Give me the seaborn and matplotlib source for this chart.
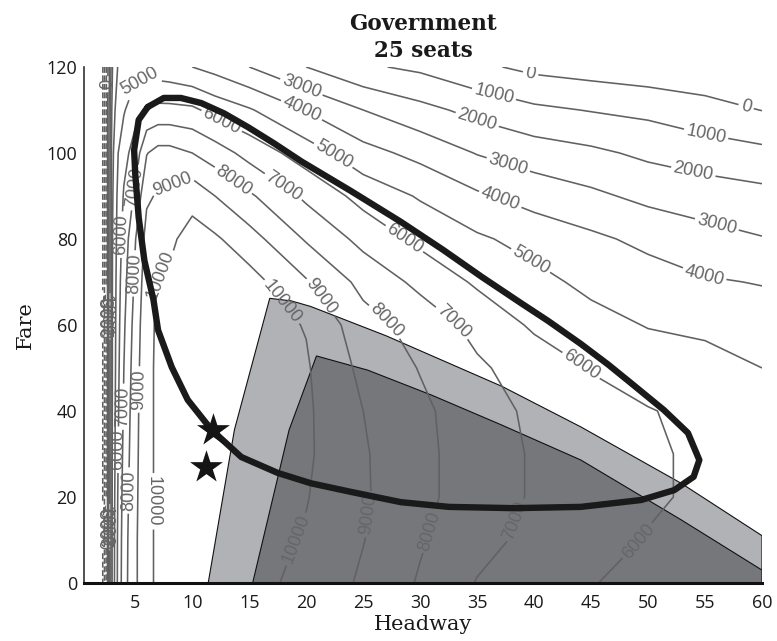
import numpy as np
import matplotlib
matplotlib.use("Agg")
import matplotlib.pyplot as plt
import seaborn as sns

# ---------------- data ----------------
headway = [2, 2.5, 3, 3.5, 4, 5, 6, 7, 8, 10, 12, 15, 20, 25, 30, 35, 40, 45, 50, 55, 60]
fare = [0, 10, 20, 30, 40, 50, 60, 70, 80, 90, 100, 110, 120]

# welfare values (one list per fare row, columns follow `headway`)
w_f000 = [-4000, -600, 4300, 6300, 7600, 8850, 9700, 10200, 10300, 10400, 10500, 10350, 9700, 8850, 7900, 6950, 6480, 6030, 5800, 5650, 5550]
w_f010 = [-4000, -600, 4300, 6250, 7550, 8850, 9700, 10200, 10350, 10500, 10650, 10450, 9900, 9030, 8100, 7300, 6750, 6300, 5950, 5750, 5620]
w_f020 = [-4000, -600, 4250, 6150, 7450, 8800, 9700, 10200, 10350, 10550, 10750, 10550, 10050, 9120, 8250, 7500, 6900, 6450, 6120, 5850, 5700]
w_f030 = [-4000, -600, 4200, 6000, 7300, 8750, 9700, 10200, 10350, 10600, 10800, 10600, 10150, 9100, 8250, 7500, 6900, 6450, 6120, 5850, 5650]
w_f040 = [-4000, -600, 4150, 5900, 7150, 8700, 9700, 10200, 10350, 10600, 10800, 10600, 10150, 9000, 8200, 7450, 6800, 6350, 6050, 5750, 5550]
w_f050 = [-4000, -600, 4100, 5800, 7000, 8600, 9700, 10200, 10350, 10600, 10750, 10550, 10100, 8750, 7950, 7150, 6550, 5950, 5550, 5350, 5000]
w_f060 = [-4000, -600, 4100, 5700, 6850, 8450, 9700, 10150, 10300, 10550, 10650, 10450, 9950, 8400, 7600, 6700, 5850, 5350, 4950, 4800, 4500]
w_f070 = [-4000, -600, 4050, 5600, 6650, 8200, 9600, 10050, 10150, 10500, 10500, 10400, 9100, 7700, 6750, 5850, 5300, 4750, 4450, 4100, 3950]
w_f080 = [-4000, -600, 4000, 5450, 6400, 7950, 9350, 9600, 9800, 10400, 10150, 9400, 7900, 6700, 5750, 5150, 4650, 4200, 3750, 3350, 3050]
w_f090 = [-4000, -600, 3900, 5300, 6100, 7200, 8850, 9100, 9200, 9650, 9000, 8150, 6800, 5650, 4900, 4150, 3600, 3200, 2750, 2500, 2300]
w_f100 = [-4000, -600, 3800, 5000, 5700, 6400, 7950, 8350, 8350, 8000, 7500, 6650, 5500, 4350, 3700, 2950, 2500, 2200, 1800, 1500, 1250]
w_f110 = [-4000, -700, 3500, 4600, 4900, 5700, 6150, 6300, 6300, 6200, 5650, 5100, 3950, 3000, 2300, 1700, 1200, 950, 750, 350, -20]
w_f120 = [-4000, -800, 3000, 4100, 4400, 4600, 4500, 4400, 4300, 4000, 3650, 3000, 2000, 1150, 800, 200, -250, -450, -650, -700, -950]

levels = [-3000, -2000, -1000, 0, 1000, 2000, 3000, 4000, 5000, 6000, 7000, 8000, 9000, 10000]

# thick closed curve
loop_headway = [6.1, 7.5, 9.0, 10.8, 12.8, 14.9, 17.2, 19.6, 23.9, 28.3, 32.0, 35.4, 38.9, 41.2, 44.1,
                46.5, 48.5, 51.4, 53.5, 54.5, 54.0, 52.3, 49.4, 44.1, 38.2, 32.5, 28.3, 23.9, 20.4,
                17.5, 14.3, 11.7, 9.6, 8.2, 7.0, 6.6, 5.8, 5.3, 5.0, 4.9, 5.3, 6.1]
loop_fare = [110.7, 112.8, 112.8, 111.6, 109.2, 106.0, 102.2, 98.0, 91.2, 84.0, 77.5, 71.2, 65.0, 61.0, 55.6,
             50.8, 46.5, 40.2, 34.9, 28.6, 24.7, 21.6, 19.3, 17.7, 17.4, 17.7, 18.8, 21.2, 23.2,
             25.6, 29.3, 35.6, 42.6, 50.2, 58.8, 65.8, 75.0, 85.0, 95.0, 100.7, 107.7, 110.7]

# stars
star_headway = [11.8, 11.2]
star_fare = [35.6, 27.0]

# shaded regions
light_headway = [11.4, 13.7, 16.8, 18.7, 20.4, 27.0, 37.2, 44.1, 52.9, 60.0, 60.0]
light_fare = [0.0, 35.6, 66.2, 65.6, 64.3, 57.5, 45.7, 36.3, 23.2, 11.0, 0.0]
dark_headway = [15.3, 18.5, 20.9, 25.4, 31.0, 37.1, 44.1, 52.9, 60.0, 60.0]
dark_fare = [0.0, 35.6, 52.8, 49.5, 43.7, 36.8, 28.6, 14.7, 3.0, 0.0]

# contour label anchor points (layout)
label_pos = [
    (2.56, 116), (39.7, 118.6), (58.6, 110.7),
    (36.5, 114), (55, 103),
    (35, 107.7), (54, 96),
    (19.6, 115.5), (37.7, 97), (56, 83),
    (19.6, 110), (37, 89), (55, 72),
    (5.5, 115), (22.5, 100), (39.7, 75),
    (12.5, 107), (28.6, 80), (44, 50), (49.4, 9), (3.5, 31), (3.8, 81),
    (18.3, 93.4), (32.7, 60), (38, 15), (3.94, 41), (4.9, 92),
    (13.7, 94), (27, 61), (31, 12), (4.4, 21.5), (4.85, 72),
    (8.2, 93.5), (21, 66), (25.4, 16), (5.33, 45),
    (7.5, 71), (17, 63.5), (19.3, 10), (6.6, 19),
    (2.15, 62), (2.44, 63), (2.77, 62),
    (2.15, 13), (2.44, 14), (2.77, 13),
]

# ---------------- drawing ----------------
Z = np.array([w_f000, w_f010, w_f020, w_f030, w_f040, w_f050, w_f060,
              w_f070, w_f080, w_f090, w_f100, w_f110, w_f120])

sns.set_theme(style="white")
plt.rcParams['font.family'] = ['Open Sans', 'DejaVu Sans']

fig = plt.figure(figsize=(7.77, 6.41), dpi=100)
ax = fig.add_axes([0.1081, 0.0905, 0.8726, 0.805])

ax.fill(light_headway, light_fare, facecolor='#b1b2b6', edgecolor='#111111', linewidth=0.8, zorder=1)
ax.fill(dark_headway, dark_fare, facecolor='#76777b', edgecolor='#111111', linewidth=0.8, zorder=1.1)

cs = ax.contour(headway, fare, Z, levels=levels, colors='#616161', linewidths=1.15, zorder=2)
plt.rcParams['font.family'] = ['Liberation Sans', 'DejaVu Sans']
ax.clabel(cs, manual=label_pos, inline=True, inline_spacing=3, fmt='%1.0f', fontsize=13, colors='#666666')
plt.rcParams['font.family'] = ['Open Sans', 'DejaVu Sans']

sns.lineplot(x=loop_headway, y=loop_fare, sort=False, estimator=None, color='#1a1a1a',
             linewidth=4.6, ax=ax, zorder=4)
sns.scatterplot(x=star_headway, y=star_fare, marker='*', s=620, color='#151515',
                linewidth=0, ax=ax, zorder=5)

ax.set_xlim(0.5, 60)
ax.set_ylim(0, 120)
ax.set_xticks([5, 10, 15, 20, 25, 30, 35, 40, 45, 50, 55, 60])
ax.set_yticks([0, 20, 40, 60, 80, 100, 120])
ax.tick_params(axis='both', length=0, labelsize=13, colors='#1a1a1a')
ax.tick_params(axis='x', pad=8)
ax.tick_params(axis='y', pad=5)

for s in ['top', 'right']:
    ax.spines[s].set_visible(False)
ax.spines['left'].set_color('#333333')
ax.spines['left'].set_linewidth(1.2)
ax.spines['bottom'].set_color('#111111')
ax.spines['bottom'].set_linewidth(2.2)

ax.set_title('Government\n25 seats', fontsize=15.5, fontweight='bold', family='DejaVu Serif',
             pad=7, linespacing=1.3, color='#1a1a1a')
ax.set_xlabel('Headway', fontsize=15, family='DejaVu Serif', labelpad=2, color='#1a1a1a')
ax.set_ylabel('Fare', fontsize=15, family='DejaVu Serif', labelpad=8, color='#1a1a1a')

fig.savefig('out.png', dpi=100)
